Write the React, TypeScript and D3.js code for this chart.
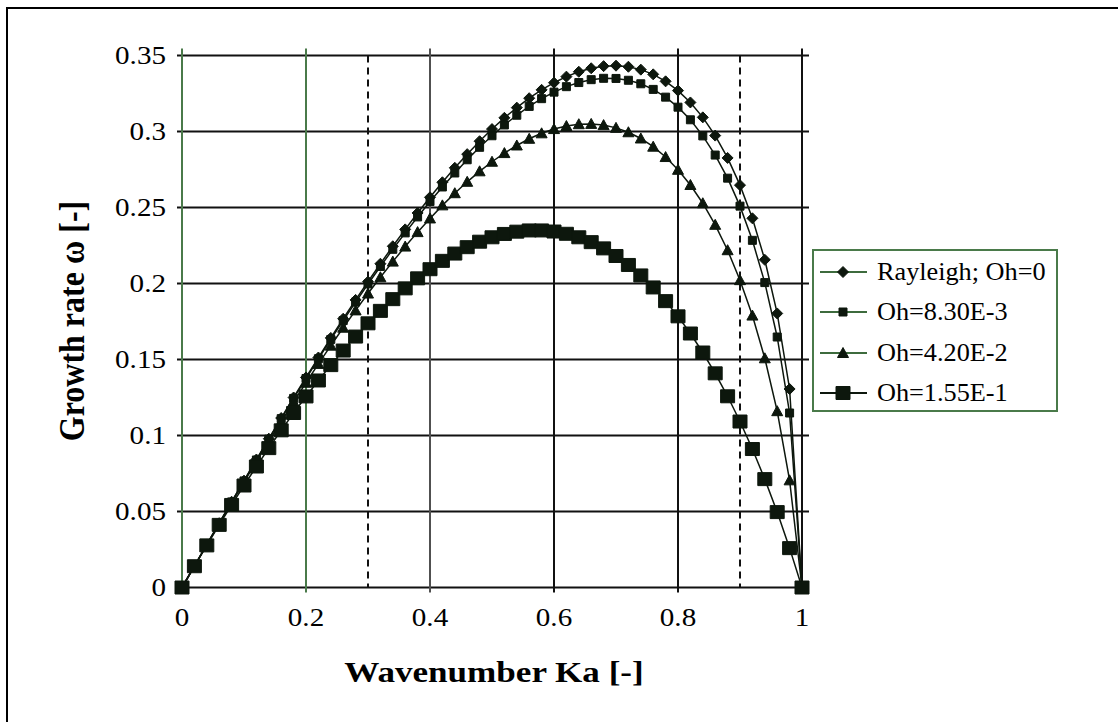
import React from 'react';
import * as d3 from 'd3';

// Dimensionless wavenumber Ka sampled every 0.02
const waveNumbers = [
  0, 0.02, 0.04, 0.06, 0.08, 0.1, 0.12, 0.14, 0.16, 0.18,
  0.2, 0.22, 0.24, 0.26, 0.28, 0.3, 0.32, 0.34, 0.36, 0.38,
  0.4, 0.42, 0.44, 0.46, 0.48, 0.5, 0.52, 0.54, 0.56, 0.58,
  0.6, 0.62, 0.64, 0.66, 0.68, 0.7, 0.72, 0.74, 0.76, 0.78,
  0.8, 0.82, 0.84, 0.86, 0.88, 0.9, 0.92, 0.94, 0.96, 0.98, 1,
];

// Growth rate ω for each Ohnesorge number
const rayleighOh0 = [
  0, 0.0141, 0.0283, 0.0423, 0.0564, 0.0703, 0.0842, 0.0979, 0.1115, 0.125,
  0.1382, 0.1513, 0.1642, 0.1768, 0.1892, 0.2012, 0.213, 0.2245, 0.2356, 0.2464,
  0.2567, 0.2666, 0.2761, 0.2851, 0.2936, 0.3016, 0.309, 0.3157, 0.3219, 0.3274,
  0.3321, 0.3361, 0.3393, 0.3416, 0.343, 0.3433, 0.3426, 0.3407, 0.3376, 0.333,
  0.3269, 0.3191, 0.3093, 0.2973, 0.2826, 0.2647, 0.2429, 0.2156, 0.1803, 0.1306, 0,
];
const oh830e3 = [
  0, 0.0141, 0.0282, 0.0423, 0.0563, 0.0701, 0.0839, 0.0976, 0.1111, 0.1244,
  0.1375, 0.1505, 0.1632, 0.1756, 0.1878, 0.1997, 0.2112, 0.2225, 0.2333, 0.2438,
  0.2539, 0.2635, 0.2727, 0.2814, 0.2896, 0.2972, 0.3043, 0.3107, 0.3165, 0.3216,
  0.3259, 0.3295, 0.3322, 0.3341, 0.335, 0.3349, 0.3337, 0.3314, 0.3277, 0.3226,
  0.316, 0.3077, 0.2971, 0.2845, 0.2693, 0.2509, 0.2284, 0.2006, 0.1648, 0.1148, 0,
];
const oh420e2 = [
  0, 0.0141, 0.0281, 0.042, 0.0558, 0.0694, 0.0829, 0.0962, 0.1092, 0.1221,
  0.1347, 0.1471, 0.1591, 0.1709, 0.1823, 0.1934, 0.2041, 0.2144, 0.2243, 0.2338,
  0.2428, 0.2514, 0.2594, 0.2669, 0.2738, 0.2801, 0.2858, 0.2908, 0.2952, 0.2988,
  0.3016, 0.3036, 0.3048, 0.305, 0.3042, 0.3024, 0.2995, 0.2954, 0.29, 0.2832,
  0.2748, 0.2648, 0.2528, 0.2386, 0.2219, 0.2022, 0.1789, 0.1508, 0.116, 0.0705, 0,
];
const oh155e1 = [
  0, 0.014, 0.0277, 0.0412, 0.0543, 0.0671, 0.0796, 0.0917, 0.1034, 0.1148,
  0.1257, 0.1362, 0.1463, 0.1559, 0.1651, 0.1738, 0.182, 0.1897, 0.1968, 0.2034,
  0.2094, 0.2149, 0.2197, 0.2239, 0.2275, 0.2304, 0.2326, 0.2341, 0.2349, 0.2349,
  0.2342, 0.2327, 0.2304, 0.2272, 0.2231, 0.2181, 0.2122, 0.2053, 0.1974, 0.1884,
  0.1784, 0.1671, 0.1546, 0.1409, 0.1258, 0.1092, 0.0911, 0.0713, 0.0496, 0.0259, 0,
];

const seriesNames = ['Rayleigh; Oh=0', 'Oh=8.30E-3', 'Oh=4.20E-2', 'Oh=1.55E-1'];
const seriesValues = [rayleighOh0, oh830e3, oh420e2, oh155e1];
const seriesMarkers = ['diamond', 'smallSquare', 'triangle', 'bigSquare'];

const xTicks = [0, 0.2, 0.4, 0.6, 0.8, 1];
const xTickLabels = ['0', '0.2', '0.4', '0.6', '0.8', '1'];
const yTicks = [0, 0.05, 0.1, 0.15, 0.2, 0.25, 0.3, 0.35];
const yTickLabels = ['0', '0.05', '0.1', '0.15', '0.2', '0.25', '0.3', '0.35'];
const dashedGuides = [0.3, 0.9];

const SERIF = "'Liberation Serif', 'Times New Roman', serif";
const INK = '#0d170d';
const GREEN = '#4a7a4a';

function markerPath(kind: string): string {
  switch (kind) {
    case 'diamond':
      return 'M0,-5.5L5.5,0L0,5.5L-5.5,0Z';
    case 'smallSquare':
      return 'M-4,-4H4V4H-4Z';
    case 'triangle':
      return 'M0,-5.5L5.5,4.5H-5.5Z';
    default:
      return 'M-7,-6.5H7V6.5H-7Z';
  }
}

function verticalGridColor(v: number): string {
  if (v < 0.3) return GREEN;
  if (v < 0.5) return '#505050';
  return '#111';
}

function Txt(props: {
  x: number; y: number; sx: number; size: number; anchor: string;
  bold?: boolean; rotate?: number; children: React.ReactNode;
}) {
  const { x, y, sx, size, anchor, bold, rotate, children } = props;
  return (
    <g transform={`translate(${x},${y}) scale(${sx},1)${rotate ? ` rotate(${rotate})` : ''}`}>
      <text
        x={0}
        y={0}
        textAnchor={anchor}
        fontFamily={SERIF}
        fontSize={size}
        fontWeight={bold ? 'bold' : 'normal'}
        fill="#000"
      >
        {children}
      </text>
    </g>
  );
}

export default function App() {
  const x = d3.scaleLinear().domain([0, 1]).range([182, 802]);
  const y = d3.scaleLinear().domain([0, 0.35]).range([587.5, 55.5]);
  const [y0, y1] = y.range();
  const [x0, x1] = x.range();

  const line = d3
    .line<number>()
    .x((_, i) => x(waveNumbers[i]))
    .y((d) => y(d));

  const legendX = 813;
  const legendY = 250;
  const legendRows = [272, 312, 353, 393].map((v) => v - legendY);

  return (
    <svg
      width={1118}
      height={722}
      style={{ position: 'absolute', left: 0, top: 0, background: '#fff' }}
    >
      <rect x={0} y={0} width={1118} height={722} fill="#fff" />
      <rect x={7} y={8} width={1130} height={730} fill="none" stroke="#000" strokeWidth={2} />

      {/* horizontal grid with left ticks */}
      {yTicks.map((t) => (
        <line key={`h${t}`} x1={x0 - 5} x2={x1 + 7} y1={y(t)} y2={y(t)} stroke="#111" strokeWidth={2} />
      ))}
      {/* vertical grid with bottom ticks */}
      {xTicks.map((t) => (
        <line
          key={`v${t}`}
          x1={x(t)}
          x2={x(t)}
          y1={y1 - 7}
          y2={y0 + 5}
          stroke={verticalGridColor(t)}
          strokeWidth={2}
        />
      ))}
      {/* dashed reference wavenumbers */}
      {dashedGuides.map((t) => (
        <line
          key={`d${t}`}
          x1={x(t)}
          x2={x(t)}
          y1={y1}
          y2={y0}
          stroke="#111"
          strokeWidth={2}
          strokeDasharray="7,5"
        />
      ))}

      {/* series lines */}
      {seriesValues.map((vals, si) => (
        <path key={`l${si}`} d={line(vals) || ''} fill="none" stroke={INK} strokeWidth={1.5} />
      ))}
      {/* series markers */}
      {seriesValues.map((vals, si) => (
        <g key={`m${si}`}>
          {vals.map((v, i) => (
            <path
              key={i}
              d={markerPath(seriesMarkers[si])}
              transform={`translate(${x(waveNumbers[i])},${y(v)})`}
              fill={INK}
              stroke={INK}
              strokeWidth={1}
            />
          ))}
        </g>
      ))}

      {/* tick labels */}
      {yTicks.map((t, i) => (
        <Txt key={`yl${t}`} x={166} y={y(t) + 8.5} sx={1.12} size={26} anchor="end">
          {yTickLabels[i]}
        </Txt>
      ))}
      {xTicks.map((t, i) => (
        <Txt key={`xl${t}`} x={x(t)} y={626} sx={1.12} size={26} anchor="middle">
          {xTickLabels[i]}
        </Txt>
      ))}

      {/* axis titles */}
      <Txt x={494} y={682} sx={1.17} size={30} anchor="middle" bold>
        Wavenumber Ka [-]
      </Txt>
      <Txt x={84} y={321} sx={1.12} size={32} anchor="middle" bold rotate={-90}>
        Growth rate ω [-]
      </Txt>

      {/* legend */}
      <g transform={`translate(${legendX},${legendY})`}>
        <rect x={0} y={0} width={244} height={161} fill="#fff" stroke={GREEN} strokeWidth={2} />
        {seriesNames.map((name, i) => (
          <g key={name} transform={`translate(0,${legendRows[i]})`}>
            <line x1={7} x2={54} y1={0} y2={0} stroke={i === 3 ? INK : '#3d6b3d'} strokeWidth={2} />
            <path d={markerPath(seriesMarkers[i])} transform="translate(30,0)" fill={INK} stroke={INK} />
            <Txt x={64} y={8} sx={1.05} size={25} anchor="start">
              {name}
            </Txt>
          </g>
        ))}
      </g>
    </svg>
  );
}
